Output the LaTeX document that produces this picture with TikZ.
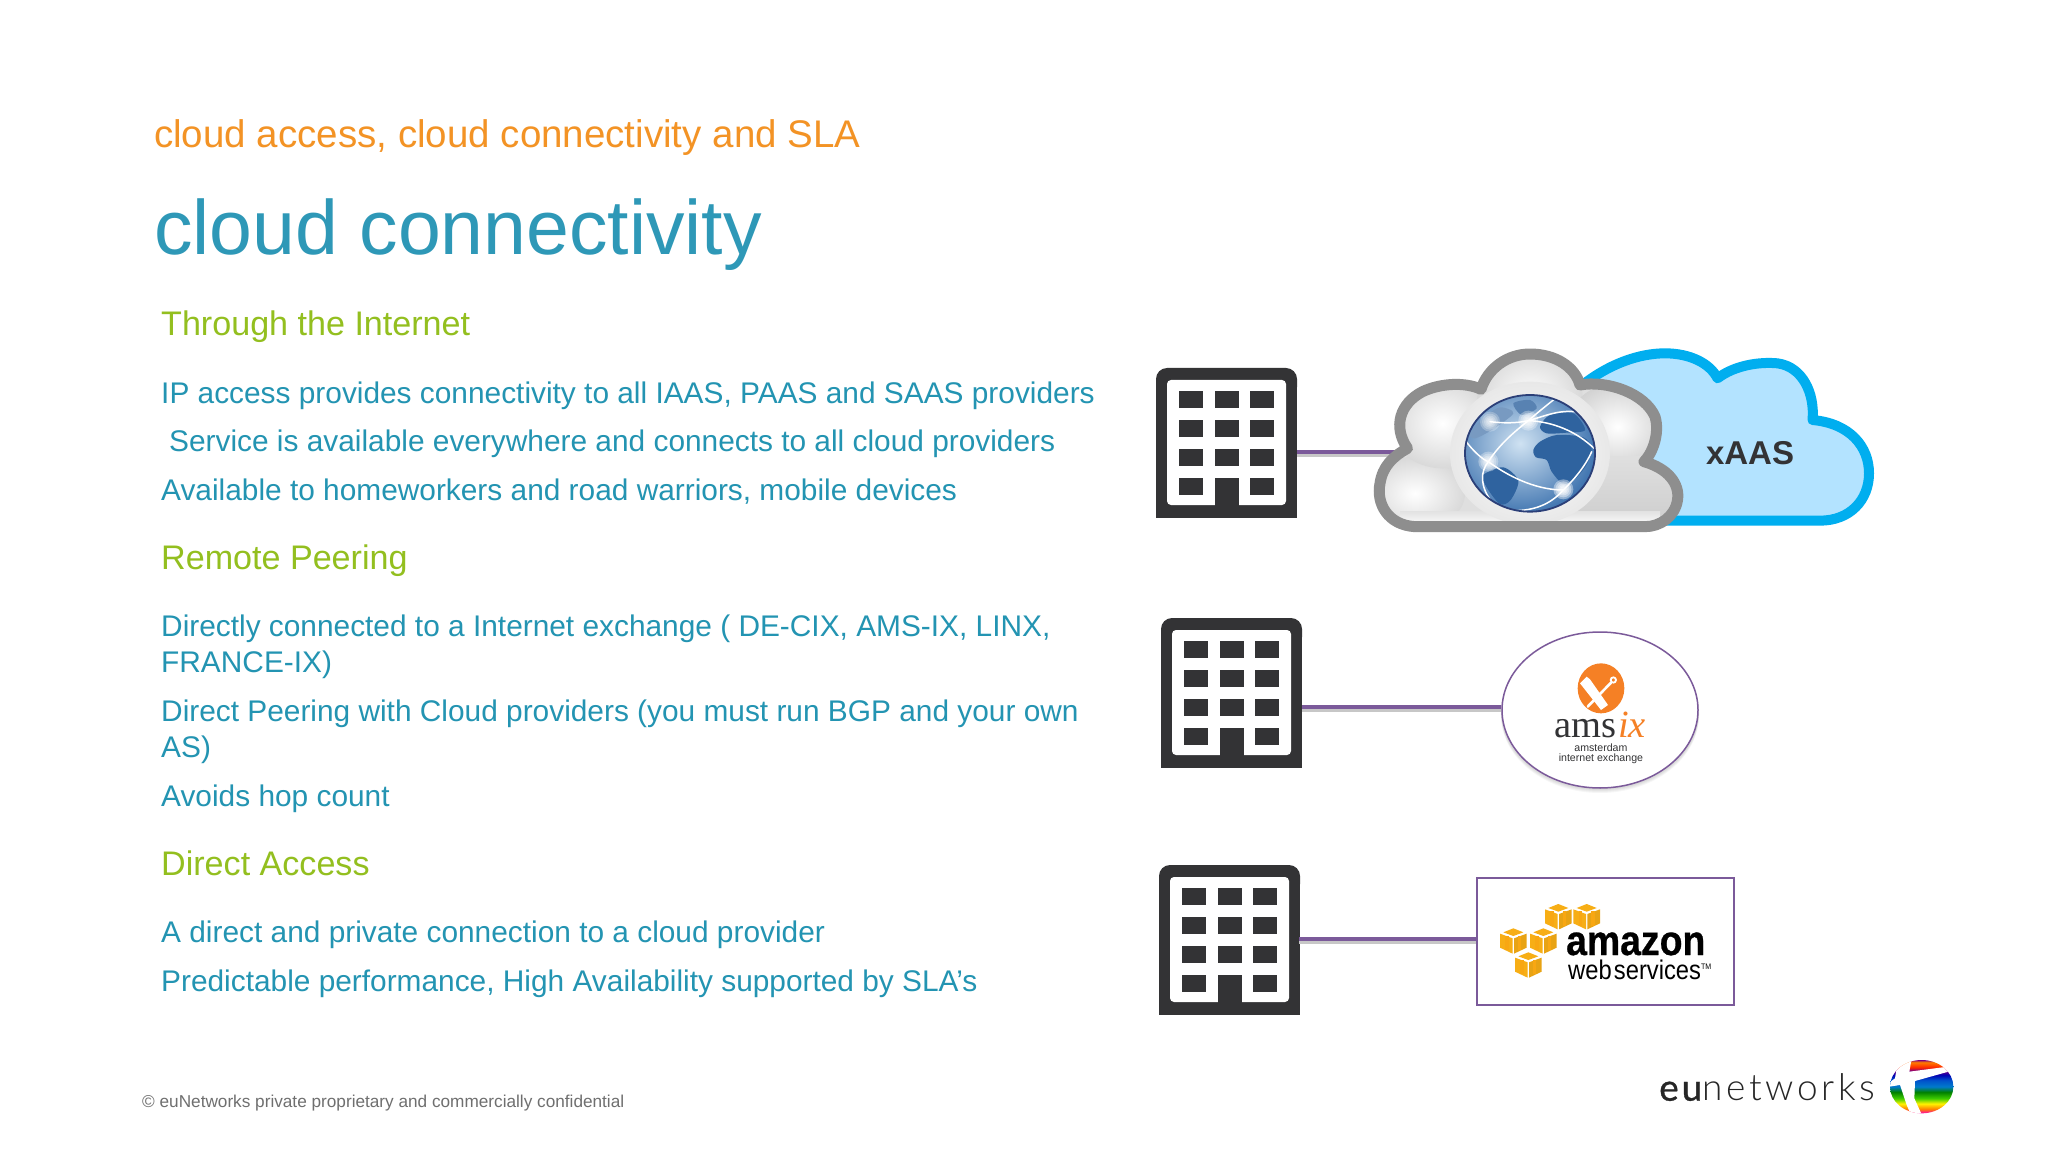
\documentclass[tikz,border=0pt]{standalone}
\usepackage{fontspec}
\setmainfont{Liberation Sans}
\newfontfamily\serifx{Liberation Serif}
\newfontfamily\logofont[LetterSpace=10]{Lato Light}
\newfontfamily\logobold[LetterSpace=8,FakeBold=0.9]{Lato}
\newfontfamily\awsbold[FakeBold=0.7]{Liberation Sans Bold}
\usetikzlibrary{calc,shapes.geometric}
\definecolor{subor}{HTML}{F39325}
\definecolor{teal1}{HTML}{2E98B7}
\definecolor{green1}{HTML}{93BF1F}
\definecolor{body1}{HTML}{2394B2}
\definecolor{foot1}{HTML}{6F6F6F}
\definecolor{bld}{HTML}{333335}
\definecolor{purp}{HTML}{7B5A9A}
\definecolor{cubeor}{HTML}{F7AE15}
\definecolor{amsor}{HTML}{F58025}
\definecolor{skyline}{HTML}{00AEEF}
\definecolor{skyfill}{HTML}{B3E3FF}
\definecolor{landc}{HTML}{2F639F}
\definecolor{oceanin}{HTML}{CFE2F2}
\definecolor{oceanout}{HTML}{3A70AD}
\definecolor{rimc}{HTML}{2B3F78}
\definecolor{cloudline}{HTML}{8E8E8E}
\pgfdeclareverticalshading{rainbow}{100bp}{
 color(0bp)=(magenta!70!red); color(25bp)=(magenta!70!red); color(29bp)=(orange); color(34bp)=(yellow!90!orange);
 color(39bp)=(green!70!yellow!80!black); color(45bp)=(green!50!black); color(50bp)=(cyan!60!blue!80!black);
 color(56bp)=(blue!60!cyan!80!black); color(61bp)=(blue!70!black); color(65bp)=(violet); color(68bp)=(red!70!orange);
 color(73bp)=(orange); color(75bp)=(violet); color(100bp)=(violet)}
\tikzset{
 z1/.style={shift={(1130,330)},x=.5pt,y=-.33333pt},
 z2/.style={shift={(1130,600)},x=.39740pt,y=-.33333pt},
 z3/.style={shift={(1640,1050)},x=.33333pt,y=-.33333pt},
 zg/.style={shift={(1450,380)},x=.33333pt,y=-.33333pt},
 zc/.style={shift={(1490,890)},x=.33333pt,y=-.33333pt},
 zb/.style={shift={(1880,1055)},x=.33333pt,y=-.33333pt},
 zx/.style={shift={(1560,650)},x=.33333pt,y=-.33333pt},
 subtxt/.style={anchor=base west,inner sep=0pt,text=subor,font=\fontsize{38.5}{44}\selectfont},
 titletxt/.style={anchor=base west,inner sep=0pt,text=teal1,font=\fontsize{77}{84}\selectfont},
 headtxt/.style={anchor=base west,inner sep=0pt,text=green1,font=\fontsize{34.1}{40}\selectfont},
 bodytxt/.style={anchor=base west,inner sep=0pt,text=body1,font=\fontsize{29.85}{36}\selectfont},
 foottxt/.style={anchor=base west,inner sep=0pt,text=foot1,font=\fontsize{17.2}{20}\selectfont},
 place/.style={inner sep=0pt,minimum width=#1},
 link/.style={draw=purp,line width=4pt,preaction={draw=black!22,line width=3pt,transform canvas={yshift=-3pt}}},
 win/.style={fill=bld,draw=none},
 arcw/.style={draw=white,line width=1.5pt,line cap=round},
}
% building: name, x left, y top (141 x 150)
\newcommand{\bldgx}[3]{%
 \begin{scope}[shift={(#2,#3)}]
  \node[place=141,minimum height=150] (#1) at (70.5,75) {};
  \fill[bld,rounded corners=11pt] (0,30)--(0,0)--(141,0)--(141,30)--cycle;
  \fill[bld] (0,15) rectangle (141,150);
  \fill[white,rounded corners=4pt] (11,137)--(11,12)--(130,12)--(130,137)--cycle;
  \foreach \yy in {23,52,81,110}{
    \fill[win] (23,\yy) rectangle (47,\yy+17);
    \fill[win] (59,\yy) rectangle (83,\yy+17);
    \fill[win] (94,\yy) rectangle (118,\yy+17);}
  \fill[bld] (59,110) rectangle (83,150);
 \end{scope}}
% cube, reference-crop coordinates
\newcommand{\cubex}[2]{%
 \begin{scope}[shift={(#1,#2)}]
  \fill[cubeor] (-30,-26)--(0,-38)--(30,-26)--(0,-15)--cycle;
  \fill[cubeor] (-40,-22)--(-2,-8)--(-2,38)--(-40,20)--cycle;
  \fill[cubeor!94!black] (40,-22)--(2,-8)--(2,38)--(40,20)--cycle;
  \fill[cubeor!85!orange] (-24,-16) rectangle (-14,27);
  \fill[cubeor!85!orange] (14,-16) rectangle (24,27);
 \end{scope}}
\newcommand{\glowx}[3]{%
 \foreach \rr in {1,.8,.6,.45,.3}{\fill[white,opacity=#3] (#1,#2) circle[radius=\rr*30];}}
\begin{document}
\begin{tikzpicture}[x=1pt,y=-1pt]
\useasboundingbox (0,0) rectangle (2048,1155);
\fill[white] (0,0) rectangle (2048,1155);

% texts
\node[subtxt] (t0) at (154,148) {cloud access, cloud connectivity and SLA};
\node[titletxt] (t1) at (154,255) {cloud connectivity};
\node[headtxt] (h1) at (161,336) {Through the Internet};
\node[bodytxt] (l1) at (161,403) {IP access provides connectivity to all IAAS, PAAS and SAAS providers};
\node[bodytxt] (l2) at (169,451) {Service is available everywhere and connects to all cloud providers};
\node[bodytxt] (l3) at (161,500) {Available to homeworkers and road warriors, mobile devices};
\node[headtxt] (h2) at (161,569) {Remote Peering};
\node[bodytxt] (l4) at (161,636) {Directly connected to a Internet exchange ( DE-CIX, AMS-IX, LINX,};
\node[bodytxt] (l5) at (161,672) {FRANCE-IX)};
\node[bodytxt] (l6) at (161,721) {Direct Peering with Cloud providers (you must run BGP and your own};
\node[bodytxt] (l7) at (161,757) {AS)};
\node[bodytxt] (l8) at (161,806) {Avoids hop count};
\node[headtxt] (h3) at (161,875) {Direct Access};
\node[bodytxt] (l9) at (161,942) {A direct and private connection to a cloud provider};
\node[bodytxt] (l10) at (161,991) {Predictable performance, High Availability supported by SLA’s};
\node[foottxt] (ft) at (142,1107.5) {© euNetworks private proprietary and commercially confidential};

% buildings
\bldgx{b1}{1156}{368}
\bldgx{b2}{1161}{618}
\bldgx{b3}{1159}{865}
\coordinate (p1) at (1297,452);
\coordinate (p2) at (1302,707);
\coordinate (p3) at (1299,939);
\coordinate (gc1) at (1405,452);

% amsix ring
\foreach \ss in {5,4,3,2}{\fill[black,opacity=.035] (1600,710+\ss) ellipse (99 and 78);}
\node[ellipse,draw=purp,line width=1.5pt,fill=white,inner sep=0pt,
      minimum width=196pt,minimum height=156pt] (amsring) at (1600,710) {};

% connectors (under the shapes)
\draw[link] (p1) -- (gc1);
\draw[link] (p2) -- (p2 -| amsring.west);

% blue cloud
\begin{scope}[z1]
 \draw[draw=skyline,fill=skyfill,line width=10pt,line join=round]
  (905,165) .. controls (960,100) and (1020,70) .. (1070,70)
  .. controls (1120,70) and (1160,100) .. (1175,145)
  .. controls (1210,105) and (1260,95) .. (1295,100)
  .. controls (1345,110) and (1370,190) .. (1365,270)
  .. controls (1440,280) and (1478,350) .. (1478,430)
  .. controls (1478,510) and (1440,572) .. (1380,572)
  -- (1040,572) -- cycle;
 \node[text=bld,font=\bfseries\fontsize{33}{36}\selectfont] (xaas) at (1240,368) {xAAS};

 % grey cloud
 \def\gpath{(570,590) .. controls (515,585) and (492,520) .. (500,460)
  .. controls (505,410) and (525,380) .. (555,355)
  .. controls (525,290) and (540,220) .. (585,185)
  .. controls (620,160) and (670,155) .. (702,178)
  .. controls (715,115) and (755,72) .. (800,72)
  .. controls (850,72) and (890,110) .. (900,165)
  .. controls (955,150) and (1030,190) .. (1050,260)
  .. controls (1060,310) and (1045,370) .. (1028,395)
  .. controls (1075,415) and (1100,460) .. (1095,510)
  .. controls (1090,560) and (1060,590) .. (1030,590) -- cycle}
 \fill[gray!25] \gpath;
 \begin{scope}
  \clip \gpath;
  \shade[inner color=white,outer color=gray!30] (570,490) ellipse (100 and 110);
  \shade[inner color=white,outer color=gray!30] (625,280) ellipse (105 and 135);
  \shade[inner color=white,outer color=gray!30] (800,200) ellipse (105 and 140);
  \shade[inner color=white,outer color=gray!35] (975,290) ellipse (100 and 130);
  \shade[top color=gray!25,bottom color=gray!40] (840,380) rectangle (1110,600);
  \shade[top color=gray!22,bottom color=white] (540,545) rectangle (1060,590);
  \shade[inner color=white,outer color=gray!18] (800,370) ellipse (160 and 215);
 \end{scope}
 \draw[draw=cloudline,line width=11pt,line join=round] \gpath;
\end{scope}

% globe
\begin{scope}[zg]
 \begin{scope}
  \clip (240,220) ellipse (195 and 175);
  \shade[inner color=oceanin,outer color=oceanout] (210,190) ellipse (240 and 225);
  \fill[landc] plot[smooth cycle] coordinates {(250,210) (270,185) (320,165) (400,172) (425,205) (412,250) (380,292) (340,312) (305,275) (290,240) (258,232)};
  \fill[landc] plot[smooth cycle] coordinates {(270,140) (300,105) (370,100) (405,150) (350,158) (290,160)};
  \fill[landc] plot[smooth cycle] coordinates {(100,285) (160,262) (205,302) (182,360) (150,372) (110,322)};
  \fill[landc!65!white] plot[smooth cycle] coordinates {(75,175) (125,150) (190,100) (150,82) (105,110) (60,160)};
  \fill[landc!80!white] plot[smooth cycle] coordinates {(190,70) (240,60) (260,85) (215,105)};
  \draw[arcw] (45,180) .. controls (70,215) and (100,240) .. (115,245)
     .. controls (190,300) and (270,330) .. (340,330);
  \draw[arcw] (115,245) .. controls (90,275) and (90,320) .. (125,365);
  \draw[arcw] (115,245) .. controls (150,190) and (200,150) .. (235,122)
     .. controls (260,100) and (285,80) .. (310,60);
  \draw[arcw] (120,125) .. controls (160,130) and (200,130) .. (235,122)
     .. controls (280,110) and (320,90) .. (375,95);
  \draw[arcw] (235,122) .. controls (310,125) and (380,155) .. (432,205);
  \draw[arcw] (340,330) .. controls (375,295) and (405,260) .. (425,215);
  \draw[arcw] (340,330) .. controls (300,375) and (250,392) .. (190,392);
  \glowx{340}{328}{.4}
  \glowx{115}{245}{.3}
  \glowx{235}{122}{.32}
  \glowx{120}{125}{.25}
 \end{scope}
 \draw[rimc,line width=1.8pt] (240,220) ellipse (195 and 175);
\end{scope}

% amsix logo
\begin{scope}[zx]
 \fill[amsor] (123,115) ellipse (70 and 75);
 \fill[white] (60,100) -- (80,80) -- (90,88) -- (144,165) -- (123,180) -- cycle;
 \draw[white,line width=2.6pt,line cap=round] (153,98) -- (83,170);
 \draw[white,line width=1.8pt] (160,90) circle[radius=8];
\end{scope}
\begin{scope}[z2]
 \node[inner sep=0pt,anchor=base east] (amsA) at (1224,412)
   {\serifx\fontsize{38.5}{40}\selectfont\color{bld}ams};
 \node[inner sep=0pt,anchor=base west] (amsB) at (1228,412)
   {\serifx\itshape\fontsize{38.5}{40}\selectfont\color{amsor}ix};
 \node[inner sep=0pt,align=center,text=bld,font=\fontsize{10.6}{9.6}\selectfont] (amsC) at (1185,461)
   {amsterdam\\internet exchange};
\end{scope}

% aws box
\begin{scope}[z2]
 \node[draw=purp,line width=1.6pt,fill=white,inner sep=0pt,minimum width=257pt,minimum height=127pt] (aws) at (1197,1024) {};
\end{scope}
\draw[link] (p3) -- (p3 -| aws.west);
\begin{scope}[zc]
 \cubex{205}{80}
 \cubex{290}{80}
 \cubex{70}{153}
 \cubex{160}{153}
 \cubex{115}{225}
\end{scope}
\node[inner sep=0pt,anchor=base west,xscale=.89,transform shape,font=\awsbold\fontsize{42}{44}\selectfont] (am) at (1566,955) {amazon};
\node[inner sep=0pt,anchor=base west,xscale=.88,transform shape,font=\fontsize{27}{30}\selectfont] (ws) at (1568,979) {web\hspace{-5pt} services\raisebox{10pt}{\fontsize{8}{8}\selectfont TM}};

% eunetworks logo
\begin{scope}[zb]
 \begin{scope}
  \clip (125,95) ellipse (95 and 80);
  \shade[shading=rainbow] (30,15) rectangle (220,175);
  \fill[white] (55,10) -- (95,10) -- (88,50) -- (195,36) -- (205,50) -- (105,78) -- (103,130) -- (128,185) -- (95,185) -- (80,150) -- (60,90) -- (28,95) -- (25,85) -- (45,70) -- cycle;
 \end{scope}
\end{scope}
\begin{scope}[z3]
 \node[inner sep=0pt,anchor=base west,text=black!85,font=\logofont\fontsize{37}{38}\selectfont] (eu) at (57,152)
   {{\logobold eu}networks};
\end{scope}
\end{tikzpicture}
\end{document}
